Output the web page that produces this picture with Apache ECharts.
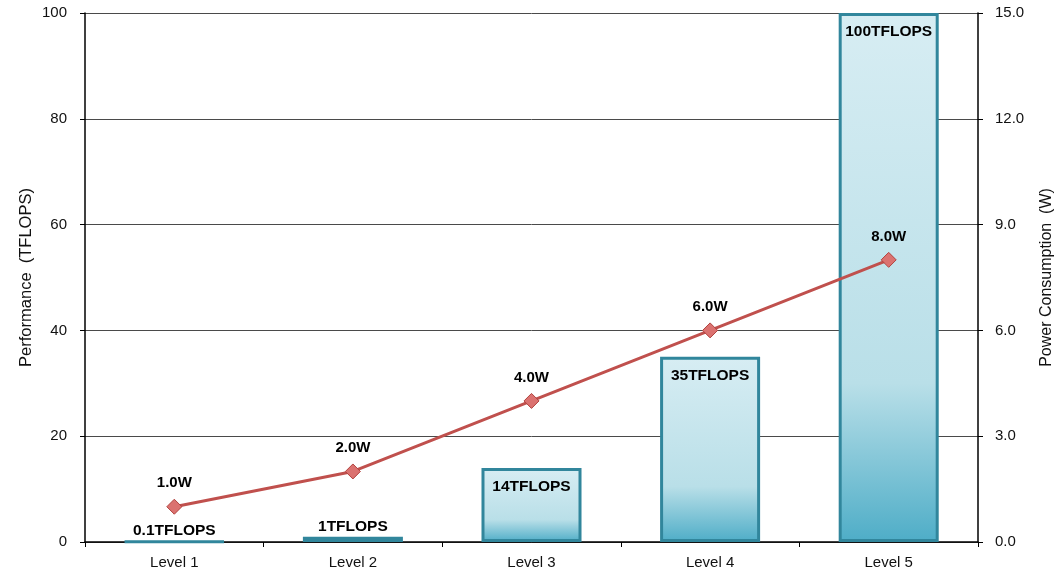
<!DOCTYPE html>
<html>
<head>
<meta charset="utf-8">
<script src="https://cdn.jsdelivr.net/npm/echarts@6/dist/echarts.min.js"></script>
<style>
  html, body { margin: 0; padding: 0; background: #fff; overflow: hidden; }
  #chart { width: 1059px; height: 570px; }
</style>
</head>
<body>
<div id="chart"></div>
<script>
// Compute levels, their throughput and power draw
const levels = ['Level 1', 'Level 2', 'Level 3', 'Level 4', 'Level 5'];
const perfTflops = [0.1, 1, 14, 35, 100];
const powerWatts = [1.0, 2.0, 4.0, 6.0, 8.0];
const perfTicks = [0, 20, 40, 60, 80, 100];
const powerTicks = [0, 3, 6, 9, 12, 15];

const FONT = '"Liberation Sans", Arial, sans-serif';

const barFill = new echarts.graphic.LinearGradient(0, 0, 0, 1, [
  { offset: 0, color: '#d7edf3' },
  { offset: 0.7, color: '#b9dfe8' },
  { offset: 1, color: '#4eadc7' }
]);

const chart = echarts.init(document.getElementById('chart'), null, { renderer: 'canvas' });

chart.setOption({
  animation: false,
  backgroundColor: '#ffffff',
  grid: { left: 85, right: 81, top: 13, bottom: 28, outerBoundsMode: 'none' },
  xAxis: {
    type: 'category',
    data: levels,
    axisLine: { lineStyle: { color: '#000', width: 1.5 } },
    axisTick: { show: true, length: 5, alignWithLabel: false, lineStyle: { color: '#000' } },
    axisLabel: { color: '#111', fontFamily: FONT, fontSize: 15, margin: 13 }
  },
  yAxis: [
    {
      type: 'value',
      min: 0, max: perfTicks[perfTicks.length - 1], interval: perfTicks[1] - perfTicks[0],
      name: 'Performance  (TFLOPS)',
      nameLocation: 'middle',
      nameGap: 50,
      nameMoveOverlap: false,
      nameRotate: 90,
      nameTextStyle: { color: '#111', fontFamily: FONT, fontSize: 16.5 },
      axisLine: { show: true, lineStyle: { color: '#000', width: 1.5 } },
      axisTick: { show: true, length: 5, lineStyle: { color: '#000' } },
      axisLabel: { color: '#111', fontFamily: FONT, fontSize: 15, margin: 18 },
      splitLine: { show: true, lineStyle: { color: '#4a4a4a', width: 1 } }
    },
    {
      type: 'value',
      min: 0, max: powerTicks[powerTicks.length - 1], interval: powerTicks[1] - powerTicks[0],
      position: 'right',
      name: 'Power Consumption  (W)',
      nameLocation: 'middle',
      nameGap: 61,
      nameMoveOverlap: false,
      nameRotate: 90,
      nameTextStyle: { color: '#111', fontFamily: FONT, fontSize: 16 },
      axisLine: { show: true, lineStyle: { color: '#000', width: 1.5 } },
      axisTick: { show: true, length: 5, lineStyle: { color: '#000' } },
      axisLabel: {
        color: '#111', fontFamily: FONT, fontSize: 15, margin: 17,
        formatter: v => v.toFixed(1)
      },
      splitLine: { show: false }
    }
  ],
  series: [
    {
      name: 'Performance',
      type: 'bar',
      yAxisIndex: 0,
      barWidth: '56%',
      data: perfTflops.map(v => ({
        value: v,
        label: v >= 10
          ? { position: 'insideTop', distance: 11 }
          : { position: 'top', distance: 2 }
      })),
      itemStyle: { color: barFill, borderColor: '#31869c', borderWidth: 3 },
      label: {
        show: true,
        color: '#000',
        fontFamily: FONT,
        fontWeight: 'bold',
        fontSize: 15.5,
        formatter: p => p.value + 'TFLOPS'
      },
      z: 2
    },
    {
      name: 'Power',
      type: 'line',
      yAxisIndex: 1,
      data: powerWatts,
      symbol: 'diamond',
      symbolSize: 15,
      lineStyle: { color: '#c0504d', width: 3 },
      itemStyle: { color: '#db7270', borderColor: '#b2433f', borderWidth: 1 },
      label: {
        show: true,
        position: 'top',
        distance: 8,
        color: '#000',
        fontFamily: FONT,
        fontWeight: 'bold',
        fontSize: 15,
        formatter: p => p.value.toFixed(1) + 'W'
      },
      z: 5
    }
  ]
});
</script>
</body>
</html>
